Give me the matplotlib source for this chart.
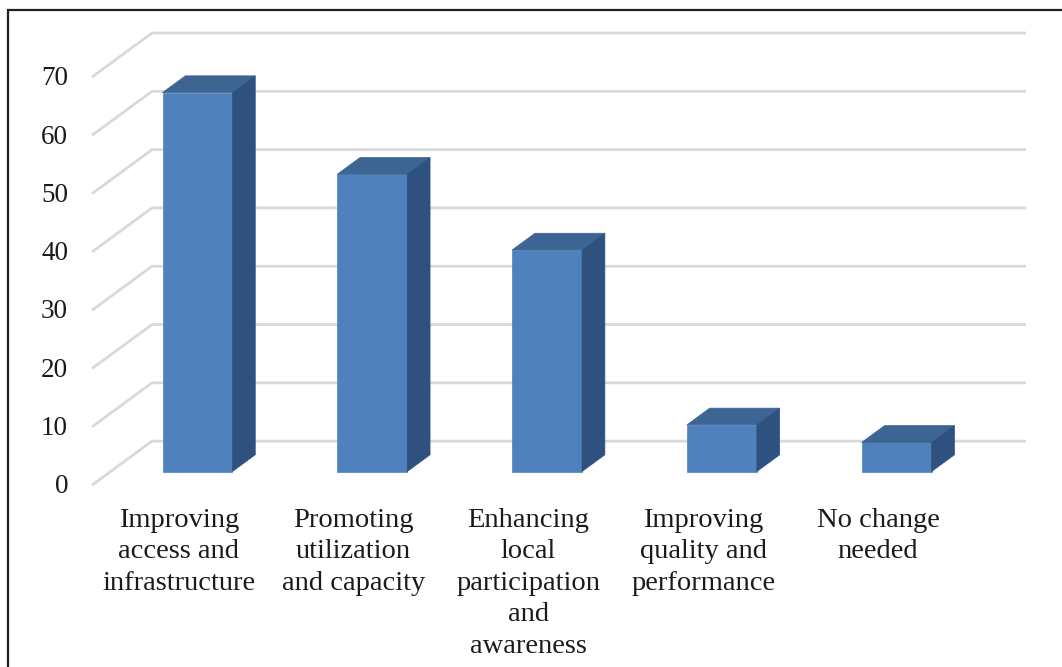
import matplotlib
matplotlib.use("Agg")
import matplotlib.pyplot as plt
from matplotlib.patches import Polygon, Rectangle

# ---- data ----
categories = [
    "Improving\naccess and\ninfrastructure",
    "Promoting\nutilization\nand capacity",
    "Enhancing\nlocal\nparticipation\nand\nawareness",
    "Improving\nquality and\nperformance",
    "No change\nneeded",
]
values = [65, 51, 38, 8, 5]
yticks = [0, 10, 20, 30, 40, 50, 60, 70]

# ---- layout (pixel based projection) ----
W, H = 1062, 667
X0, SX = 197.5, 174.8     # pixel x of first bar centre, px per category
Y0, SY = 471.5, 5.83      # pixel y of value 0 on bar front plane, px per unit
DEPTH_PX = (60.0, 44.0)   # full floor depth in pixels
F = 0.31                  # bar front position as fraction of depth
BAR_W = 0.40

fig = plt.figure(figsize=(W / 100, H / 100), dpi=100)
ax = fig.add_axes([0, 0, 1, 1])
ax.set_xlim(-X0 / SX, (W - X0) / SX)
ax.set_ylim((Y0 - H) / SY, Y0 / SY)
ax.axis("off")

Dx, Dy = DEPTH_PX[0] / SX, DEPTH_PX[1] / SY
front_dx, front_dy = -F * Dx, -F * Dy
back_dx, back_dy = (1 - F) * Dx, (1 - F) * Dy
bar_dx, bar_dy = (1 - 2 * F) * Dx, (1 - 2 * F) * Dy

x_left_front = (92 - X0) / SX - front_dx
x_right = (1026 - X0) / SX

grid_c = "#d9d9d9"
for v in yticks:
    xa, ya = x_left_front + front_dx, v + front_dy
    xb, yb = x_left_front + back_dx, v + back_dy
    ax.plot([xa, xb, x_right], [ya, yb, yb], color=grid_c, lw=2.0,
            solid_capstyle="butt", zorder=1)
    ax.text((68 - X0) / SX, ya - 0.3, str(v), ha="right", va="center",
            fontsize=19.5, family="Liberation Serif", color="#1a1a1a")

front_c = "#4f81bd"
top_c = "#3c6594"
side_c = "#2f5180"
xs = list(range(len(values)))
ax.bar(xs, values, width=BAR_W, color=front_c, edgecolor=front_c,
       linewidth=0.5, zorder=3)
for x, v in zip(xs, values):
    l, r = x - BAR_W / 2, x + BAR_W / 2
    top = Polygon([(l, v), (r, v), (r + bar_dx, v + bar_dy), (l + bar_dx, v + bar_dy)],
                  closed=True, facecolor=top_c, edgecolor=top_c, lw=0.5, zorder=3)
    side = Polygon([(r, 0), (r + bar_dx, bar_dy), (r + bar_dx, v + bar_dy), (r, v)],
                   closed=True, facecolor=side_c, edgecolor=side_c, lw=0.5, zorder=3)
    ax.add_patch(top)
    ax.add_patch(side)

for x, lab in zip(xs, categories):
    ax.text(x + front_dx, (Y0 - 508) / SY, lab, ha="center", va="top",
            fontsize=20.5, family="Liberation Serif", color="#1a1a1a",
            linespacing=1.34)

fig.patches.append(Rectangle((8 / W, -0.1), 1.2, 1 - 10 / H + 0.1,
                             transform=fig.transFigure, fill=False,
                             edgecolor="#222222", lw=1.6))

fig.savefig("out.png", dpi=100)
